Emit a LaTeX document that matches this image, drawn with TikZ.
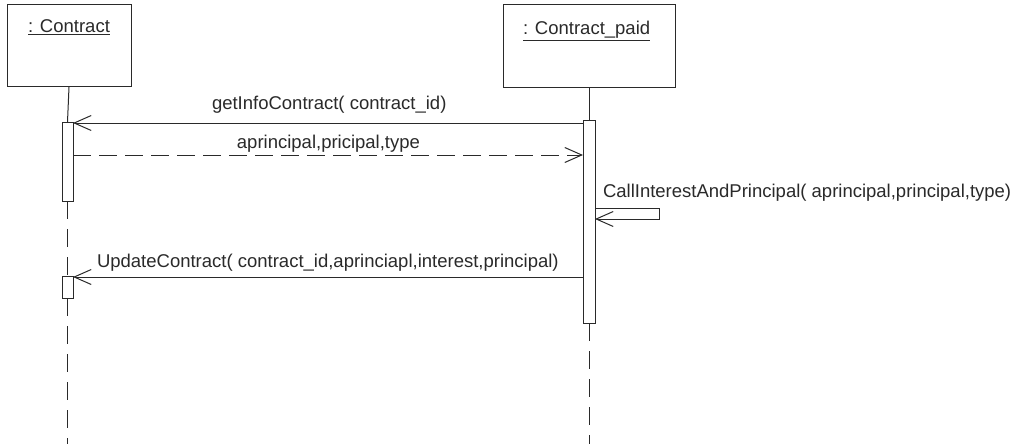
\documentclass[tikz,border=0pt]{standalone}
\usepackage{fontspec}
\setmainfont{Liberation Sans}
\usetikzlibrary{arrows.meta}
\definecolor{ink}{HTML}{2A2A2A}
\begin{document}
\begin{tikzpicture}[x=1pt,y=-1pt,
  every node/.style={inner sep=0pt, outer sep=0pt},
  obj/.style={draw=ink, line width=1pt, rectangle},
  bar/.style={draw=ink, line width=1pt, rectangle, fill=white},
  lbl/.style={font=\fontsize{18.5}{20}\selectfont, text=ink},
  msg/.style={draw=ink, line width=1pt, -{Straight Barb[length=17pt,width=15pt,line width=1pt]}},
  ret/.style={msg, dash pattern=on 18pt off 8pt},
  life/.style={draw=ink, line width=1pt},
  lifedash/.style={life, dash pattern=on 18pt off 10pt}]
\useasboundingbox (0,0) rectangle (1018,444);
\fill[white] (0,0) rectangle (1018,444);

% objects
\node[obj, minimum width=124pt, minimum height=82pt] (c1) at (69,46) {};
\node[obj, minimum width=172pt, minimum height=83pt] (c2) at (589,46.5) {};
\node[lbl, anchor=base west] (c1t) at (28,33) {\underline{: Contract}};
\node[lbl, anchor=base west] (c2t) at (523,35) {\underline{: Contract\_paid}};

% bottom ends of lifelines
\coordinate (e1) at (67.5,444);
\coordinate (e2) at (589,444);

% activation bars
\node[bar, minimum width=11pt, minimum height=79pt] (a1) at (67.5,161.5) {};
\node[bar, minimum width=12pt, minimum height=203pt] (a2) at (589,221.5) {};
\node[bar, minimum width=11pt, minimum height=22pt] (a3) at (67.5,287) {};

% lifelines
\draw[life] (c1.south) -- (a1.north);
\draw[lifedash] (a1.south) -- (a3.north);
\draw[lifedash] (a3.south) -- (e1);
\draw[life] (c2.south) -- (a2.north);
\draw[lifedash] (a2.south) -- (e2);

% message levels
\coordinate (y1) at (0,123);
\coordinate (y2) at (0,155);
\coordinate (y3a) at (0,208);
\coordinate (y3b) at (0,219);
\coordinate (y4) at (0,277);
\coordinate (sr) at (659,0);

\draw[msg] (a2.west |- y1) -- (a1.east |- y1);
\node[lbl, anchor=base west] (t1) at (212,110) {getInfoContract( contract\_id)};

\draw[ret] (a1.east |- y2) -- (a2.west |- y2);
\node[lbl, anchor=base east] (t2) at (420,148) {aprincipal,pricipal,type};

\draw[msg] (a2.east |- y3a) -- (sr |- y3a) -- (sr |- y3b) -- (a2.east |- y3b);
\node[lbl, anchor=base west] (t3) at (603,197) {CallInterestAndPrincipal( aprincipal,principal,type)};

\draw[msg] (a2.west |- y4) -- (a3.east |- y4);
\node[lbl, anchor=base west] (t4) at (97,267) {UpdateContract( contract\_id,aprinciapl,interest,principal)};
\end{tikzpicture}
\end{document}
